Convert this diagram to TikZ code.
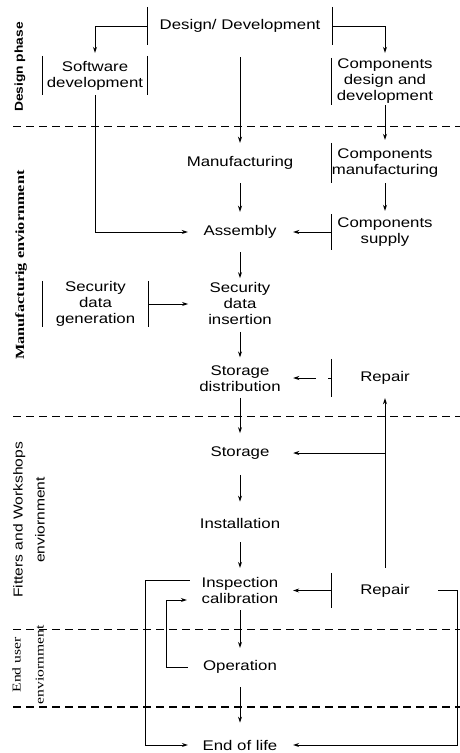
\documentclass[tikz,border=0pt]{standalone}
\usepackage{fontspec}
\setmainfont{Liberation Sans}[FakeStretch=1.2]
\newfontfamily\sidesans{Liberation Sans}[FakeStretch=1.2]
\newfontfamily\sideserif{Liberation Serif}[FakeStretch=1.3]
\usetikzlibrary{arrows.meta,calc}
\begin{document}
\begin{tikzpicture}[x=1pt,y=-1pt,
  txt/.style={inner sep=0pt, align=center, font=\fontsize{14}{16}\selectfont},
  ln/.style={line width=0.9pt},
  bar/.style={line width=0.9pt},
  arr/.style={line width=0.9pt, -{Stealth[length=6pt,width=4pt]}},
  phase/.style={line width=0.8pt, dash pattern=on 8pt off 5pt},
  side/.style={rotate=90, inner sep=0pt, align=center}
]
\useasboundingbox (0,0) rectangle (460,753);

% phase separators
\draw[phase] (13,126) -- (460,126);
\draw[phase] (13,416) -- (460,416);
\draw[phase] (13,629) -- (460,629);
\draw[phase, line width=1.3pt] (13,707) -- (460,707);

% side labels
\node[side, font=\sidesans\bfseries\fontsize{11.5}{13}\selectfont] (L1) at (20,67) {Design phase};
\node[side, font=\sideserif\bfseries\fontsize{12.5}{14}\selectfont] (L2) at (21,265) {Manufacturig enviornment};
\node[side, font=\sidesans\fontsize{13}{22}\selectfont] (L3) at (29,520) {Fitters and Workshops\\enviornment};
\node[side, font=\sideserif\fontsize{12}{23}\selectfont] (L4) at (28,665) {End user\\enviornment};

% nodes
\node[txt, minimum width=184pt, minimum height=38pt] (DD) at (240,26) {Design/ Development};
\node[txt, minimum width=104pt, minimum height=39pt] (SW) at (95,75.5) {Software\\development};
\node[txt, minimum width=106pt, minimum height=47pt] (CDD) at (385,81.5) {Components\\design and\\development};
\node[txt] (Mfg) at (240,163) {Manufacturing};
\node[txt, minimum width=106pt, minimum height=40pt] (CM) at (385,163) {Components\\manufacturing};
\node[txt] (Asm) at (240,232) {Assembly};
\node[txt, minimum width=106pt, minimum height=35pt] (CS) at (385,232) {Components\\supply};
\node[txt, minimum width=105pt, minimum height=46pt] (SG) at (95.5,304) {Security\\data\\generation};
\node[txt] (SDI) at (240,303.5) {Security\\data\\insertion};
\node[txt] (SD) at (240,378.5) {Storage\\distribution};
\node[txt, minimum width=106pt, minimum height=38pt] (R1) at (385,378) {Repair};
\node[txt] (St) at (240,453) {Storage};
\node[txt] (Inst) at (240,523) {Installation};
\node[txt] (Insp) at (240,590.5) {Inspection\\calibration};
\node[txt, minimum width=106pt, minimum height=35pt] (R2) at (385,590.5) {Repair};
\node[txt] (Op) at (240,667) {Operation};
\node[txt] (EoL) at (240,745) {End of life};

% bracket bars
\draw[bar] (DD.north west) -- (DD.south west) (DD.north east) -- (DD.south east);
\draw[bar] (SW.north west) -- (SW.south west) (SW.north east) -- (SW.south east);
\draw[bar] (SG.north west) -- (SG.south west) (SG.north east) -- (SG.south east);
\draw[bar] (CDD.north west) -- (CDD.south west);
\draw[bar] (CM.north west) -- (CM.south west);
\draw[bar] (CS.north west) -- (CS.south west);
\draw[bar] (R1.north west) -- (R1.south west);
\draw[bar] (R2.north west) -- (R2.south west);

% main column
\draw[arr, shorten <=12pt, shorten >=13.5pt] (DD.south) -- (Mfg.north);
\draw[arr, shorten <=13.5pt, shorten >=13.5pt] (Mfg.south) -- (Asm.north);
\draw[arr, shorten <=13.5pt, shorten >=4pt] (Asm.south) -- (SDI.north);
\draw[arr, shorten <=7pt, shorten >=8pt] (SDI.south) -- (SD.north);
\draw[arr, shorten <=6.3pt, shorten >=13.4pt] (SD.south) -- (St.north);
\draw[arr, shorten <=15.4pt, shorten >=16pt] (St.south) -- (Inst.north);
\draw[arr, shorten <=14pt, shorten >=9.3pt] (Inst.south) -- (Insp.north);
\draw[arr, shorten <=6.3pt, shorten >=12.4pt] (Insp.south) -- (Op.north);
\draw[arr, shorten <=13.4pt, shorten >=17pt] (Op.south) -- (EoL.north);

% design branches
\draw[arr, shorten >=3pt] (DD.west) -| (SW.north);
\draw[arr, shorten >=5pt] (DD.east) -| (CDD.north);
\draw[arr, shorten >=3pt] (CDD.south) -- (CM.north);
\draw[arr, shorten >=3.5pt] (CM.south) -- (CS.north);
\draw[arr, shorten >=16.6pt] (CS.west) -- (Asm.east);
\draw[arr, shorten >=15.6pt] (SW.south) |- (Asm.west);
\draw[arr, shorten >=20pt] (SG.east) -- (SG.east -| SDI.west);

% repair
\draw[arr, dash pattern=on 4pt off 12pt on 40pt, shorten >=12.4pt] (R1.west) -- (R1.west -| SD.east);
\draw[arr, shorten >=1pt] ($(R2.north)+(0,-5)$) -- (R1.south);
\coordinate (J) at (R2.north |- St.east);
\draw[arr, shorten >=23.6pt] (J) -- (St.east);
\draw[arr, shorten >=14.7pt] (R2.west) -- (Insp.east);
\draw[arr, shorten >=15.6pt] (R2.east) -- ++(19,0) |- (EoL.east);

% left loops
\coordinate (A1) at ($(Insp.west)+(-12,-10.5)$);
\draw[arr, shorten >=14.6pt] (A1) -- ++(-44,0) |- (EoL.west);
\coordinate (A2) at ($(Op.west)+(-15,0)$);
\coordinate (A3) at ($(Insp.west)+(0,9.5)$);
\draw[arr, shorten >=14.7pt] (A2) -- ++(-21,0) |- (A3);
\end{tikzpicture}
\end{document}
